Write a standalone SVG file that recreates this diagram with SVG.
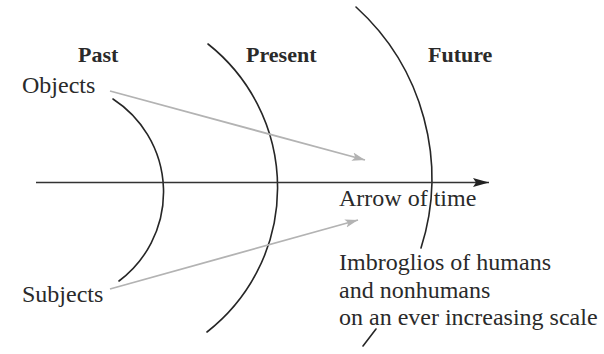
<svg xmlns="http://www.w3.org/2000/svg" width="604" height="354" viewBox="0 0 604 354">
  <style>
    .bg { fill: #ffffff; }
    .lbl { font-family: "Liberation Serif", "Times New Roman", serif; font-size: 24px; fill: #2a2a2a; }
    .hdr { font-family: "Liberation Serif", "Times New Roman", serif; font-size: 22px; font-weight: bold; fill: #2a2a2a; }
    .arc { fill: none; stroke: #262626; stroke-width: 1.6; stroke-linecap: round; }
    .time { fill: none; stroke: #333333; stroke-width: 1.6; }
    .gray { fill: none; stroke: #b3b3b3; stroke-width: 1.8; }
  </style>
  <defs>
    <marker id="headBlack" markerUnits="userSpaceOnUse" markerWidth="18" markerHeight="10" refX="16" refY="5" orient="auto">
      <path d="M0,0.5 L16,5 L0,9.5 L3,5 Z" fill="#222222"/>
    </marker>
    <marker id="headGray" markerUnits="userSpaceOnUse" markerWidth="14" markerHeight="10" refX="13" refY="5" orient="auto">
      <path d="M0,0.8 L13,5 L0,9.2 L3,5 Z" fill="#b3b3b3"/>
    </marker>
  </defs>
  <rect class="bg" x="0" y="0" width="604" height="354"/>

  <g id="arcs">
    <path id="arc-past" class="arc" d="M113,99 A111,111 0 0 1 119,281"/>
    <path id="arc-present" class="arc" d="M208,44 A183,183 0 0 1 207,332"/>
    <path id="arc-future" class="arc" d="M356,7 A231,231 0 0 1 421,248"/>
    <path id="arc-future-tail" class="arc" d="M376,329 L363,346"/>
  </g>

  <g id="connectors">
    <path id="time-arrow" class="time" d="M36,182.5 L489,182.5" marker-end="url(#headBlack)"/>
    <path id="objects-arrow" class="gray" d="M110,91 L365,160" marker-end="url(#headGray)"/>
    <path id="subjects-arrow" class="gray" d="M110,289 L358,220" marker-end="url(#headGray)"/>
  </g>

  <g id="past"><text class="hdr" x="78" y="62">Past</text></g>
  <g id="present"><text class="hdr" x="246" y="62">Present</text></g>
  <g id="future"><text class="hdr" x="428" y="62">Future</text></g>
  <g id="objects"><text class="lbl" x="22" y="93">Objects</text></g>
  <g id="subjects"><text class="lbl" x="22" y="302">Subjects</text></g>
  <g id="arrow-of-time"><text class="lbl" x="339" y="206">Arrow of time</text></g>
  <g id="imbroglios">
    <text class="lbl" x="339" y="270">Imbroglios of humans</text>
    <text class="lbl" x="339" y="298">and nonhumans</text>
    <text class="lbl" x="339" y="325">on an ever increasing scale</text>
  </g>
</svg>
